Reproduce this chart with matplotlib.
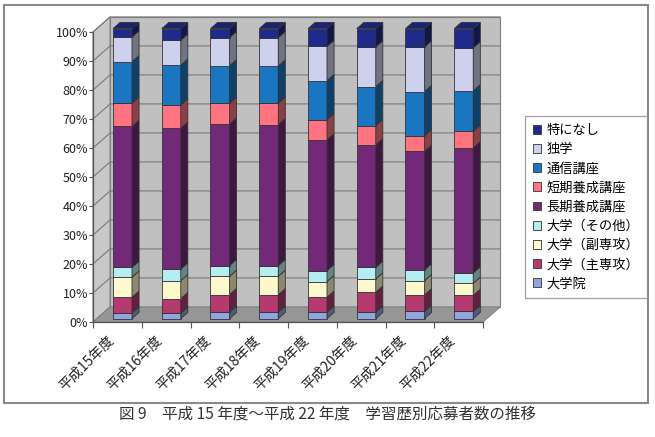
import numpy as np
import matplotlib
matplotlib.use('Agg')
import matplotlib.pyplot as plt
import matplotlib.transforms as mtransforms
from matplotlib.patches import Polygon, Rectangle, Patch
from matplotlib.colors import to_rgb

plt.rcParams['font.family'] = ['Noto Sans CJK JP', 'DejaVu Sans']

years = ['平成15年度', '平成16年度', '平成17年度', '平成18年度',
         '平成19年度', '平成20年度', '平成21年度', '平成22年度']
series = ['大学院', '大学（主専攻）', '大学（副専攻）', '大学（その他）',
          '長期養成講座', '短期養成講座', '通信講座', '独学', '特になし']
# shares in percent
daigakuin = [1.9, 1.9, 2.3, 2.3, 2.3, 2.3, 2.5, 2.5]
shusenko = [5.5, 5.0, 6.0, 5.9, 5.1, 6.8, 5.7, 5.5]
fukusenko = [6.9, 6.2, 6.3, 6.4, 5.4, 4.6, 4.9, 4.2]
sonota = [3.4, 4.0, 3.7, 3.7, 3.8, 4.0, 3.7, 3.6]
choki = [48.6, 48.6, 48.8, 48.6, 45.1, 42.3, 40.9, 43.1]
tanki = [8.0, 8.0, 7.2, 7.4, 6.9, 6.6, 5.4, 5.7]
tsushin = [14.3, 13.7, 12.9, 12.8, 13.5, 13.4, 15.2, 14.0]
dokugaku = [8.5, 8.6, 9.7, 9.8, 11.8, 13.7, 15.4, 14.8]
tokuni = [2.9, 4.0, 3.1, 3.1, 6.1, 6.3, 6.3, 6.6]
values = [daigakuin, shusenko, fukusenko, sonota, choki, tanki, tsushin, dokugaku, tokuni]
colors = ['#90a6de', '#b43a70', '#fff8cc', '#b4eef0', '#722a78',
          '#ff7480', '#1a76c0', '#cdd1ee', '#1f2a8a']

DX, DY = 0.35, 5.2        # depth of the 3d box in data units
FX, FY = 0.105, 1.15      # bar front offset
BW = 0.39                 # bar width
BDX, BDY = 0.145, 2.15    # bar depth

def shade(c, f):
    r, g, b = to_rgb(c)
    return (r * f, g * f, b * f)

fig = plt.figure(figsize=(6.55, 4.37), dpi=100)
ax = fig.add_axes([93 / 655, 1 - 322 / 437, 390 / 655, 290 / 437])
ax.set_xlim(0, 8)
ax.set_ylim(0, 100)
ax.patch.set_visible(False)

n = len(years)
# walls and floor
ax.add_patch(Polygon([(DX, DY), (n + DX, DY), (n + DX, 100 + DY), (DX, 100 + DY)],
                     closed=True, fc='#c0c0c0', ec='#808080', lw=0.8, clip_on=False, zorder=0))
ax.add_patch(Polygon([(0, 0), (DX, DY), (DX, 100 + DY), (0, 100)],
                     closed=True, fc='#c8c8c8', ec='#808080', lw=0.8, clip_on=False, zorder=0))
ax.add_patch(Polygon([(0, 0), (n, 0), (n + DX, DY), (DX, DY)],
                     closed=True, fc='#969696', ec='#808080', lw=0.8, clip_on=False, zorder=0))
for t in range(10, 101, 10):
    ax.plot([0, DX, n + DX], [t, t + DY, t + DY], color='#7a7a7a', lw=0.8,
            clip_on=False, zorder=0.5)

x = np.arange(n)
bottom = np.zeros(n)
for vals, col in zip(values, colors):
    vals = np.array(vals)
    left = x + 0.5 - BW / 2 + FX
    ax.bar(left, vals, width=BW, bottom=bottom + FY, align='edge', color=col,
           edgecolor='#333333', linewidth=0.6, zorder=3, clip_on=False)
    for i in range(n):
        xr = left[i] + BW
        lo, hi = bottom[i] + FY, bottom[i] + vals[i] + FY
        ax.add_patch(Polygon([(xr, lo), (xr + BDX, lo + BDY), (xr + BDX, hi + BDY), (xr, hi)],
                             closed=True, fc=shade(col, 0.55), ec='#333333', lw=0.6,
                             zorder=3, clip_on=False))
    bottom = bottom + vals

for i in range(n):
    xl = x[i] + 0.5 - BW / 2 + FX
    top = bottom[i] + FY
    ax.add_patch(Polygon([(xl, top), (xl + BW, top), (xl + BW + BDX, top + BDY), (xl + BDX, top + BDY)],
                         closed=True, fc=shade(colors[-1], 0.85), ec='#333333', lw=0.6,
                         zorder=3, clip_on=False))

# axes
for s in ['top', 'right']:
    ax.spines[s].set_visible(False)
for s in ['left', 'bottom']:
    ax.spines[s].set_color('#555555')
    ax.spines[s].set_linewidth(0.9)
ax.set_yticks(range(0, 101, 10))
ax.set_yticklabels([f'{t}%' for t in range(0, 101, 10)], fontsize=9, color='#222222')
ax.tick_params(axis='y', direction='out', length=3, width=0.8, color='#555555', pad=0.5)
ax.set_xticks(np.arange(n) + 0.5)
ax.set_xticklabels(years, rotation=45, ha='right', va='top', fontsize=10,
                   rotation_mode='anchor', color='#222222')
ax.tick_params(axis='x', length=0, pad=8)
shift = mtransforms.ScaledTranslation(-11 / 100, 0, fig.dpi_scale_trans)
for lab in ax.get_xticklabels():
    lab.set_transform(lab.get_transform() + shift)
ax.set_xticks(np.arange(n + 1), minor=True)
ax.tick_params(axis='x', which='minor', direction='out', length=4, width=0.8, color='#555555')

handles = [Patch(fc=c, ec='#333333', lw=0.6) for c in colors][::-1]
leg = fig.legend(handles, series[::-1], loc='upper left',
                 bbox_to_anchor=(525 / 655, 1 - 116 / 437), bbox_transform=fig.transFigure,
                 borderaxespad=0, fontsize=9.5, fancybox=False, frameon=True,
                 handlelength=0.65, handleheight=0.65, handletextpad=0.4,
                 labelspacing=0.47, borderpad=0.6)
leg.get_frame().set_edgecolor('#888888')
leg.get_frame().set_linewidth(0.9)

# outer chart frame
fig.add_artist(Rectangle((4 / 655, 1 - 403 / 437), 644 / 655, 398 / 437,
                         transform=fig.transFigure, fill=False, ec='#8a8a8a', lw=1.5))

fig.text(0.5, 1 - 414 / 437, '図 9　平成 15 年度～平成 22 年度　学習歴別応募者数の推移',
         ha='center', va='center', fontsize=11.2, color='#333333')

fig.savefig('out.png', dpi=100)
